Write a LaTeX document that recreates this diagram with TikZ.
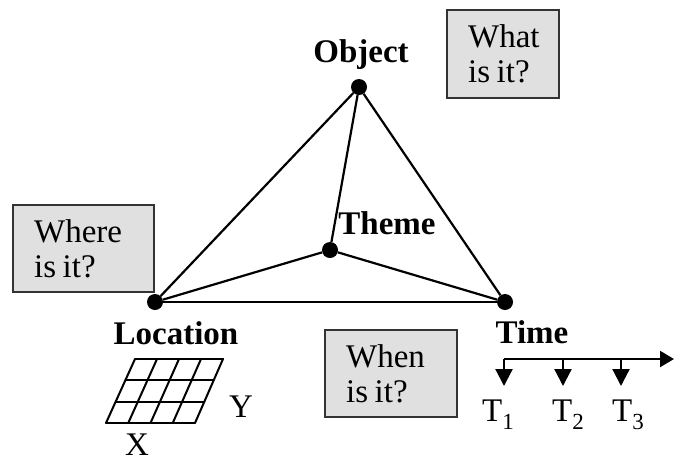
\documentclass[tikz,border=0pt]{standalone}
\usepackage{fontspec}
\setmainfont{Liberation Serif}
\usetikzlibrary{arrows.meta,calc}
\newcommand{\lowsub}[1]{\raisebox{-0.25em}{\fontsize{23}{25}\selectfont #1}}
\newcommand{\isit}{is\hspace{0.2em}it?}
\begin{document}
\begin{tikzpicture}[x=1pt,y=-1pt,
  every node/.style={font=\fontsize{33}{36}\selectfont},
  vertex/.style={circle,fill=black,inner sep=0pt,minimum size=16pt},
  edge/.style={line width=2.2pt},
  lbl/.style={font=\fontsize{33}{36}\selectfont\bfseries,inner sep=0pt},
  qbox/.style={draw=black!80,line width=2.2pt,fill=black!12,align=left,
    inner xsep=21pt,inner ysep=0pt,anchor=north west,
    font=\fontsize{33}{35}\selectfont},
  tick/.style={line width=2.2pt,-{Triangle[width=17pt,length=17pt]}},
  axis/.style={line width=2.2pt,-{Triangle[width=16pt,length=14pt]}},
  grid/.style={line width=2pt,line cap=round}]
\useasboundingbox (0,0) rectangle (674,467);

% question boxes
\node[qbox,text width=70pt,minimum height=88pt] (what) at (446,9) {What\\\isit};
\node[qbox,text width=99pt,minimum height=87pt] (where) at (12,204) {Where\\\isit};
\node[qbox,text width=90pt,minimum height=87pt] (when) at (324,329) {When\\\isit};

% the four vertices
\node[vertex] (obj) at (359,87) {};
\node[vertex] (theme) at (330,250) {};
\node[vertex] (loc) at (155,302) {};
\node[vertex] (time) at (505,302) {};

% edges of the tetrahedron
\draw[edge] (obj) -- (loc);
\draw[edge] (obj) -- (time);
\draw[edge] (obj) -- (theme);
\draw[edge] (loc) -- (theme);
\draw[edge] (theme) -- (time);
\draw[edge] (loc) -- (time);

% vertex labels
\node[lbl] (objl) at (361,55) {Object};
\node[lbl] (themel) at (387,223) {Theme};
\node[lbl] (locl) at (176,333) {Location};
\node[lbl] (timel) at (532,332) {Time};

% spatial grid
\coordinate (g00) at (135,359);
\coordinate (g40) at (223,359);
\coordinate (g03) at (106,423);
\coordinate (g43) at (195,423);
\foreach \i in {0,1,2,3,4}{
  \draw[grid] ($(g00)!\i/4!(g40)$) -- ($(g03)!\i/4!(g43)$);
}
\foreach \j in {0,1,2,3}{
  \draw[grid] ($(g00)!\j/3!(g03)$) -- ($(g40)!\j/3!(g43)$);
}
\node (ylab) at (241,407) {Y};
\node (xlab) at (137,445) {X};

% time axis
\coordinate (ax0) at (504,359);
\coordinate (ax1) at (674,359);
\coordinate (tk2) at (563,359);
\coordinate (tk3) at (621,359);
\coordinate (tb1) at (504,386);
\coordinate (tb2) at (563,386);
\coordinate (tb3) at (621,386);
\draw[axis] (ax0) -- (ax1);
\draw[tick] (ax0) -- (tb1);
\draw[tick] (tk2) -- (tb2);
\draw[tick] (tk3) -- (tb3);
\node (t1) at (498,415) {T\lowsub{1}};
\node (t2) at (568,415) {T\lowsub{2}};
\node (t3) at (628,415) {T\lowsub{3}};
\end{tikzpicture}
\end{document}
